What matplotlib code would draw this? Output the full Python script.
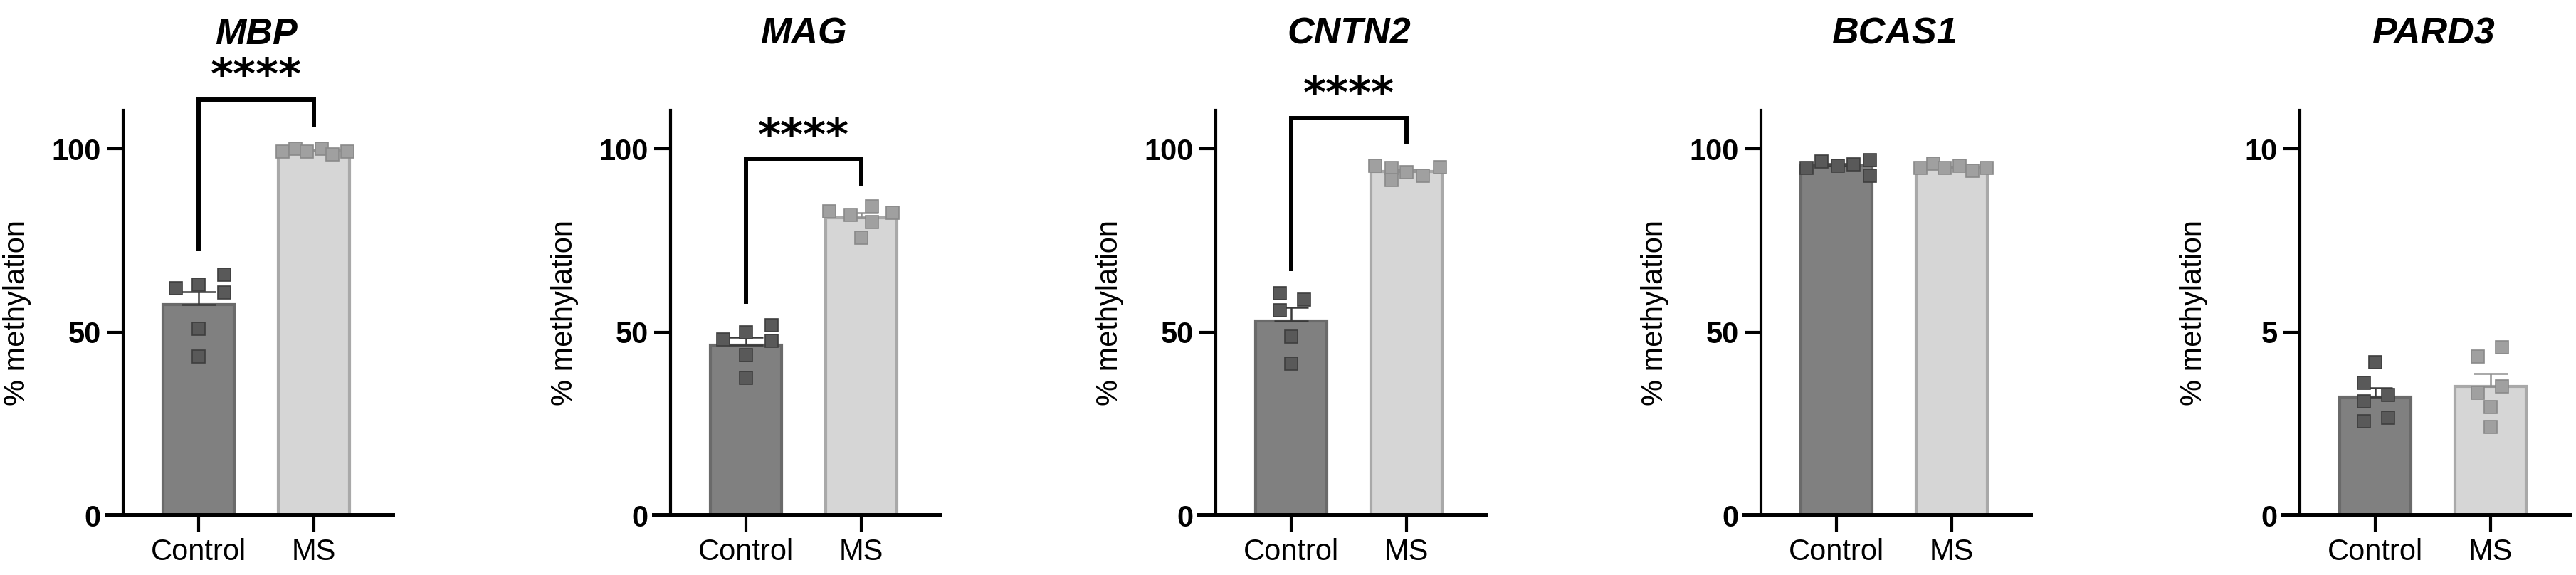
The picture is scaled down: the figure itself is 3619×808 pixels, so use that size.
import numpy as np
import matplotlib
matplotlib.use('Agg')
import matplotlib.pyplot as plt

plt.rcParams['font.family'] = ['Liberation Sans', 'DejaVu Sans']

# 資料
# ======================================================================================================================
genes = ['MBP', 'MAG', 'CNTN2', 'BCAS1', 'PARD3']
groups = ['Control', 'MS']

mbp_control = [61.9, 62.9, 65.6, 60.7, 50.9, 43.4]
mbp_ms = [99.3, 100.0, 99.3, 100.0, 98.5, 99.3]
mag_control = [47.9, 49.9, 51.9, 47.6, 43.6, 37.4]
mag_ms = [83.0, 82.0, 84.2, 82.5, 80.0, 75.7]
cntn2_control = [60.6, 58.9, 55.9, 48.7, 41.4]
cntn2_ms = [95.3, 94.7, 91.5, 93.7, 92.7, 95.0]
bcas1_control = [94.7, 96.5, 95.3, 95.7, 96.9, 92.7]
bcas1_ms = [94.7, 96.0, 94.7, 95.3, 93.9, 94.7]
pard3_control = [4.17, 3.61, 3.29, 3.11, 2.66, 2.56]
pard3_ms = [4.34, 4.58, 3.51, 3.34, 2.96, 2.41]

control_values = [mbp_control, mag_control, cntn2_control, bcas1_control, pard3_control]
ms_values = [mbp_ms, mag_ms, cntn2_ms, bcas1_ms, pard3_ms]

y_ticks = [[0, 50, 100], [0, 50, 100], [0, 50, 100], [0, 50, 100], [0, 5, 10]]
y_top = [110.5, 110.5, 110.5, 110.5, 11.05]
significance = ['****', '****', '****', '', '']

# 版面設定 (散點水平偏移, 括號位置)
# ======================================================================================================================
control_dx = [[-0.2, 0, 0.22, 0.22, 0, 0],
              [-0.2, 0, 0.22, 0.22, 0, 0],
              [-0.1, 0.11, -0.1, 0, 0],
              [-0.26, -0.13, 0.01, 0.15, 0.29, 0.29],
              [0, -0.1, 0.11, -0.1, 0.11, -0.1]]
ms_dx = [[-0.27, -0.16, -0.06, 0.07, 0.16, 0.29],
         [-0.28, -0.09, 0.09, 0.27, 0.09, 0],
         [-0.27, -0.13, -0.13, 0, 0.14, 0.29],
         [-0.27, -0.16, -0.06, 0.07, 0.18, 0.3],
         [-0.11, 0.1, 0.1, -0.11, 0, 0]]
# (左腳底, 橫線, 右腳底, 星號)
brackets = [(72.6, 113.4, 106.4, 119.6),
            (58.2, 97.3, 90.5, 103.0),
            (67.2, 108.3, 101.9, 114.5),
            None, None]

bar_colors = ['#808080', '#d6d6d6']
bar_edges = ['#6a6a6a', '#a9a9a9']
point_faces = ['#595959', '#a0a0a0']
point_edges = ['#3e3e3e', '#8a8a8a']
err_colors = ['#3a3a3a', '#8f8f8f']

W, H = 3619, 808
fig = plt.figure(figsize=(W / 100, H / 100), dpi=100)

panel_left = [150, 919, 1685, 2451, 3208]
panel_w = 402
ax_bottom = 84
ax_h = 569

for p in range(len(genes)):
    ax = fig.add_axes([panel_left[p] / W, ax_bottom / H, panel_w / W, ax_h / H])
    data = [control_values[p], ms_values[p]]
    offsets = [control_dx[p], ms_dx[p]]

    for g in range(2):
        v = np.array(data[g])
        m = v.mean()
        sem = v.std(ddof=1) / np.sqrt(len(v))
        ax.bar(g, m, width=0.62, color=bar_colors[g], edgecolor=bar_edges[g],
               linewidth=3, zorder=2)
        ax.errorbar(g, m, yerr=[[0], [sem]], color=err_colors[g], elinewidth=1.8,
                    capsize=17, capthick=1.8, zorder=3)
        ax.plot(g + np.array(offsets[g]), v, 's', markersize=13.5,
                markerfacecolor=point_faces[g], markeredgecolor=point_edges[g],
                markeredgewidth=1.2, zorder=4, clip_on=False)

    if brackets[p] is not None:
        b0, top, b1, sy = brackets[p]
        ax.plot([0, 0, 1, 1], [b0, top, top, b1], color='black', linewidth=4.3,
                solid_joinstyle='miter', clip_on=False, zorder=5)
        ax.text(0.5, sy, significance[p], ha='center', va='center', fontsize=44,
                fontweight='bold', family='DejaVu Sans', clip_on=False)

    ax.set_xlim(-0.796, 1.685)
    ax.set_ylim(0, y_top[p])
    ax.spines['top'].set_visible(False)
    ax.spines['right'].set_visible(False)
    ax.spines['left'].set_position(('data', -0.654))
    ax.spines['left'].set_linewidth(3)
    ax.spines['bottom'].set_linewidth(4.3)
    ax.set_xticks([0, 1])
    ax.set_xticklabels(groups, fontsize=30)
    ax.set_yticks(y_ticks[p])
    ax.set_yticklabels([str(t) for t in y_ticks[p]], fontsize=30, fontweight='bold')
    ax.tick_params(axis='y', length=16.5, width=3, pad=6)
    ax.tick_params(axis='x', length=17, width=3, pad=6)
    ax.set_ylabel('% methylation', fontsize=30)
    ax.yaxis.set_label_coords(-0.264, 0.5)
    ax.text(0.5, (724 - 62) / ax_h, genes[p], transform=ax.get_xaxis_transform(),
            ha='center', va='baseline', fontsize=37.5, fontweight='bold',
            fontstyle='italic')

fig.savefig('out.png', dpi=100)
